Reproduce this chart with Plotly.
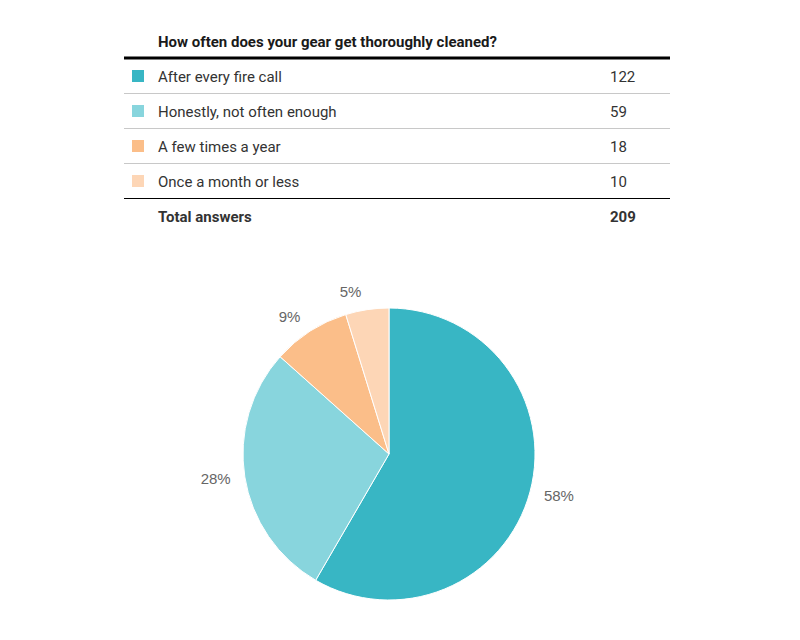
import plotly.graph_objects as go

title = "How often does your gear get thoroughly cleaned?"
categories = ["After every fire call", "Honestly, not often enough", "A few times a year", "Once a month or less"]
counts = [122, 59, 18, 10]
colors = ["#38B6C4", "#88D5DD", "#FBBE89", "#FDD6B6"]
total_label = "Total answers"

W, H = 800, 640
def px(x): return x / W
def py(y): return 1 - y / H

cx, cy, r = 389, 454, 146
fig = go.Figure()
fig.add_trace(go.Pie(
    labels=categories, values=counts, sort=False, direction="clockwise", rotation=0,
    marker=dict(colors=colors, line=dict(color="white", width=1)),
    textinfo="none",
    hoverinfo="label+value+percent", showlegend=False,
    domain=dict(x=[px(cx - r), px(cx + r)], y=[py(cy + r), py(cy - r)]),
))
r2 = r + 10
fig.add_trace(go.Pie(
    labels=categories, values=counts, sort=False, direction="clockwise", rotation=0,
    marker=dict(colors=["rgba(0,0,0,0)"] * len(counts), line=dict(width=0)),
    textposition="outside", texttemplate="%{percent:.0%}",
    textfont=dict(family="Liberation Sans, Arial", size=15, color="#666666"),
    hoverinfo="skip", showlegend=False,
    domain=dict(x=[px(cx - r2), px(cx + r2)], y=[py(cy + r2), py(cy - r2)]),
))

FONT = "Roboto, Noto Sans, sans-serif"
shapes = []
ann = []
x0, x1 = 124, 670
tx = 156
ann.append(dict(x=px(tx), y=py(42), text="<b>" + title + "</b>", showarrow=False,
                xanchor="left", yanchor="middle", font=dict(family=FONT, size=15, color="#1a1a1a")))
shapes.append(dict(type="line", xref="paper", yref="paper", x0=px(x0), x1=px(x1), y0=py(58), y1=py(58),
                   line=dict(color="black", width=3)))
row_h = 35
for i, (c, v, col) in enumerate(zip(categories, counts, colors)):
    yc = 76 + i * row_h
    shapes.append(dict(type="rect", xref="paper", yref="paper", x0=px(132), x1=px(144),
                       y0=py(yc - 6), y1=py(yc + 6), fillcolor=col, line=dict(width=0)))
    ann.append(dict(x=px(tx), y=py(yc + 1), text=c, showarrow=False, xanchor="left", yanchor="middle",
                    font=dict(family=FONT, size=15, color="#333333")))
    ann.append(dict(x=px(608), y=py(yc + 1), text=str(v), showarrow=False, xanchor="left", yanchor="middle",
                    font=dict(family=FONT, size=15, color="#333333")))
    if i < len(categories) - 1:
        yl = yc + row_h / 2
        shapes.append(dict(type="line", xref="paper", yref="paper", x0=px(x0), x1=px(x1), y0=py(yl), y1=py(yl),
                           line=dict(color="#c8c8c8", width=1)))
yl = 76 + (len(categories) - 1) * row_h + row_h / 2
shapes.append(dict(type="line", xref="paper", yref="paper", x0=px(x0), x1=px(x1), y0=py(yl), y1=py(yl),
                   line=dict(color="black", width=1)))
yt = 76 + len(categories) * row_h
ann.append(dict(x=px(tx), y=py(yt + 1), text="<b>" + total_label + "</b>", showarrow=False, xanchor="left",
                yanchor="middle", font=dict(family=FONT, size=15, color="#333333")))
ann.append(dict(x=px(608), y=py(yt + 1), text="<b>" + str(sum(counts)) + "</b>", showarrow=False, xanchor="left",
                yanchor="middle", font=dict(family=FONT, size=15, color="#333333")))

fig.update_layout(width=W, height=H, margin=dict(l=0, r=0, t=0, b=0),
                  paper_bgcolor="white", plot_bgcolor="white",
                  shapes=shapes, annotations=ann)
fig.write_html("out.html")
